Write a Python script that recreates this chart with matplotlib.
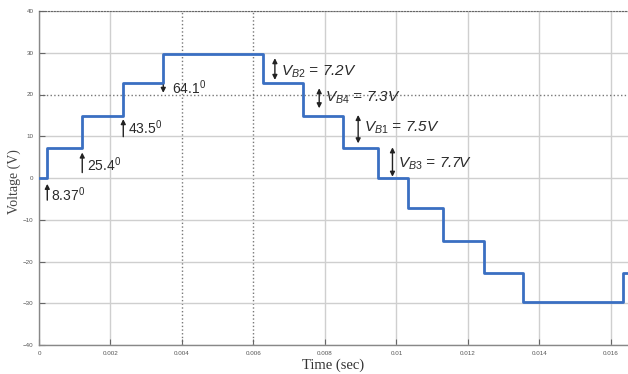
import matplotlib
matplotlib.use("Agg")
import matplotlib.pyplot as plt

plt.rcParams['font.family'] = ['Liberation Sans', 'DejaVu Sans']
plt.rcParams['mathtext.fontset'] = 'custom'
plt.rcParams['mathtext.rm'] = 'Liberation Sans'
plt.rcParams['mathtext.it'] = 'Liberation Sans:italic'

# ---- data ----
switch_times = [0.00023, 0.00121, 0.00236, 0.00348, 0.00627, 0.00738, 0.00851,
                0.00949, 0.01033, 0.0113, 0.01245, 0.01354, 0.01634]
levels = [0, 7.3, 14.9, 22.7, 29.8, 22.7, 14.9, 7.3, 0,
          -7.2, -15.1, -22.7, -29.8, -22.7]
x_ticks = [0, 0.002, 0.004, 0.006, 0.008, 0.01, 0.012, 0.014, 0.016]
x_tick_labels = ['0', '0.002', '0.004', '0.006', '0.008', '0.01', '0.012', '0.014', '0.016']
y_ticks = [-40, -30, -20, -10, 0, 10, 20, 30, 40]
x_max = 0.01648

angle_labels = ['8.37', '25.4', '43.5', '64.1']
angle_arrow_x = [0.000232, 0.00121, 0.002358, 0.003477]
angle_arrow_from = [-5.3, 1.3, 9.9, 22.3]
angle_arrow_to = [-1.4, 6.1, 14.1, 20.4]
angle_text_x = [0.000327, 0.001334, 0.002481, 0.00372]
angle_text_y = [-4.1, 3.1, 12.1, 21.6]

vb_names = ['B2', 'B4', 'B1', 'B3']
vb_values = [7.2, 7.3, 7.5, 7.7]
vb_arrow_x = [0.0066, 0.00784, 0.00893, 0.00989]
vb_arrow_top = [28.7, 21.5, 15.1, 7.35]
vb_arrow_bot = [23.5, 16.7, 8.3, 0.3]
vb_text_x = [0.00676, 0.0080, 0.00909, 0.01005]
vb_text_y = [25.5, 19.1, 12.1, 3.5]

# ---- figure ----
fig = plt.figure(figsize=(6.28, 3.74), dpi=100)
ax = fig.add_axes([39/628, 29/374, 589/628, 334/374])

t = [0] + switch_times + [x_max]
ax.step(t, levels + [levels[-1]], where='post', color='#3a6fc2', lw=2.0, zorder=3)

ax.set_xlim(0, x_max)
ax.set_ylim(-40, 40)
ax.set_xticks(x_ticks)
ax.set_xticklabels(x_tick_labels)
ax.set_yticks(y_ticks)
ax.tick_params(direction='in', length=4, width=0.8, color='#666', labelsize=4.5,
               labelcolor='#555', pad=4)

ax.grid(True, color='#cfcfcf', lw=1.0, ls='-')
for i in (2, 3):
    gl = ax.get_xgridlines()[i]
    gl.set_color('#777')
    gl.set_linestyle(':')
gy = ax.get_ygridlines()[6]
gy.set_color('#777')
gy.set_linestyle(':')

for s in ('left', 'bottom'):
    ax.spines[s].set_color('#888')
    ax.spines[s].set_linewidth(1.0)
ax.spines['top'].set_color('#666')
ax.spines['top'].set_linestyle(':')
ax.spines['right'].set_visible(False)

ax.set_xlabel('Time (sec)', family='Liberation Serif', fontsize=10.5, color='#333', labelpad=2)
ax.set_ylabel('Voltage (V)', family='Liberation Serif', fontsize=10, color='#444')
ax.yaxis.set_label_coords(-18/589, 0.49)

for lab, xa, y0, y1, xt, yt in zip(angle_labels, angle_arrow_x, angle_arrow_from,
                                    angle_arrow_to, angle_text_x, angle_text_y):
    ax.annotate('', xy=(xa, y1), xytext=(xa, y0),
                arrowprops=dict(arrowstyle='-|>', color='#222', lw=1.0, mutation_scale=7,
                                shrinkA=0, shrinkB=0))
    ax.text(xt, yt, lab + '$^0$', fontsize=10, color='#2a2a2a', ha='left', va='center')

for nm, v, xa, yt0, yb0, xt, yt in zip(vb_names, vb_values, vb_arrow_x, vb_arrow_top,
                                        vb_arrow_bot, vb_text_x, vb_text_y):
    ax.annotate('', xy=(xa, yt0), xytext=(xa, yb0),
                arrowprops=dict(arrowstyle='<|-|>', color='#222', lw=1.0, mutation_scale=7,
                                shrinkA=0, shrinkB=0))
    ax.text(xt, yt, '$V_{%s}$ = %.1fV' % (nm, v), fontsize=11, style='italic',
            color='#2a2a2a', ha='left', va='center')

fig.savefig('out.png', dpi=100)
